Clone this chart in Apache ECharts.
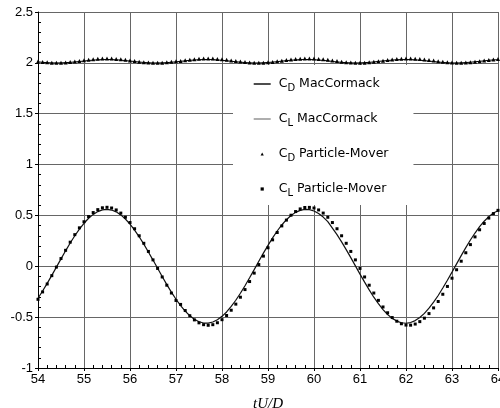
<!DOCTYPE html>
<html>
<head>
<meta charset="utf-8">
<script src="https://cdn.jsdelivr.net/npm/echarts@6/dist/echarts.min.js"></script>
<style>html,body{margin:0;padding:0;background:#fff;}#c{width:500px;height:408px;}</style>
</head>
<body>
<div id="c"></div>
<script>
// time tU/D
const t = [54.0,54.1,54.2,54.3,54.4,54.5,54.6,54.7,54.8,54.9,
55.0,55.1,55.2,55.3,55.4,55.5,55.6,55.7,55.8,55.9,
56.0,56.1,56.2,56.3,56.4,56.5,56.6,56.7,56.8,56.9,
57.0,57.1,57.2,57.3,57.4,57.5,57.6,57.7,57.8,57.9,
58.0,58.1,58.2,58.3,58.4,58.5,58.6,58.7,58.8,58.9,
59.0,59.1,59.2,59.3,59.4,59.5,59.6,59.7,59.8,59.9,
60.0,60.1,60.2,60.3,60.4,60.5,60.6,60.7,60.8,60.9,
61.0,61.1,61.2,61.3,61.4,61.5,61.6,61.7,61.8,61.9,
62.0,62.1,62.2,62.3,62.4,62.5,62.6,62.7,62.8,62.9,
63.0,63.1,63.2,63.3,63.4,63.5,63.6,63.7,63.8,63.9,64.0];

const cdMac = [2.010,2.005,2.002,2.000,1.999,2.000,2.002,2.005,2.009,2.013,
2.018,2.023,2.027,2.030,2.032,2.033,2.032,2.030,2.027,2.022,
2.018,2.013,2.008,2.004,2.001,1.999,1.999,2.000,2.002,2.006,
2.010,2.015,2.020,2.025,2.028,2.031,2.033,2.033,2.032,2.029,
2.025,2.021,2.016,2.011,2.007,2.003,2.000,1.999,1.999,2.001,
2.004,2.007,2.012,2.017,2.022,2.026,2.029,2.032,2.033,2.033,
2.031,2.028,2.024,2.020,2.014,2.009,2.005,2.002,2.000,1.999,
2.000,2.002,2.005,2.009,2.014,2.019,2.023,2.027,2.031,2.032,
2.033,2.032,2.030,2.026,2.022,2.017,2.013,2.008,2.004,2.001,
1.999,1.999,2.000,2.003,2.006,2.011,2.015,2.020,2.025,2.029,2.031];

const clMac = [-0.314,-0.243,-0.168,-0.089,-0.008,0.073,0.152,0.229,0.300,0.365,
0.423,0.472,0.510,0.538,0.555,0.560,0.553,0.535,0.505,0.465,
0.415,0.356,0.290,0.218,0.141,0.061,-0.020,-0.101,-0.180,-0.254,
-0.324,-0.386,-0.441,-0.486,-0.521,-0.545,-0.558,-0.559,-0.548,-0.526,
-0.492,-0.449,-0.395,-0.334,-0.265,-0.191,-0.113,-0.033,0.049,0.129,
0.206,0.279,0.347,0.406,0.458,0.499,0.530,0.550,0.560,0.557,
0.544,0.519,0.484,0.439,0.375,0.311,0.240,0.164,0.085,0.004,
-0.077,-0.156,-0.232,-0.304,-0.368,-0.426,-0.474,-0.512,-0.539,-0.555,
-0.560,-0.553,-0.534,-0.503,-0.463,-0.412,-0.353,-0.287,-0.214,-0.137,
-0.057,0.024,0.105,0.183,0.258,0.327,0.389,0.443,0.488,0.523,0.546];

const cdPM = [2.014,2.009,2.005,2.002,2.001,2.002,2.004,2.008,2.013,2.019,
2.025,2.031,2.036,2.040,2.042,2.043,2.042,2.039,2.035,2.030,
2.024,2.018,2.012,2.007,2.004,2.002,2.001,2.002,2.005,2.010,
2.015,2.019,2.025,2.030,2.036,2.040,2.042,2.043,2.042,2.039,
2.035,2.030,2.024,2.018,2.013,2.008,2.004,2.002,2.001,2.002,
2.005,2.009,2.015,2.021,2.027,2.032,2.037,2.041,2.043,2.043,
2.042,2.039,2.035,2.030,2.024,2.018,2.012,2.007,2.004,2.002,
2.001,2.002,2.005,2.010,2.015,2.021,2.027,2.033,2.037,2.041,
2.043,2.043,2.041,2.038,2.033,2.028,2.022,2.016,2.010,2.006,
2.003,2.001,2.001,2.003,2.007,2.011,2.017,2.023,2.029,2.034,2.039];

const clPM = [-0.325,-0.252,-0.174,-0.092,-0.008,0.076,0.157,0.237,0.311,0.378,
0.438,0.489,0.528,0.557,0.575,0.580,0.573,0.554,0.523,0.482,
0.430,0.369,0.300,0.226,0.146,0.063,-0.021,-0.105,-0.186,-0.263,
-0.336,-0.375,-0.435,-0.486,-0.527,-0.556,-0.574,-0.580,-0.574,-0.555,
-0.525,-0.484,-0.432,-0.372,-0.304,-0.229,-0.150,-0.067,0.017,0.100,
0.182,0.260,0.332,0.397,0.454,0.502,0.538,0.564,0.578,0.579,
0.573,0.554,0.523,0.482,0.430,0.369,0.300,0.226,0.146,0.063,
-0.021,-0.105,-0.186,-0.263,-0.335,-0.400,-0.457,-0.504,-0.540,-0.565,
-0.578,-0.579,-0.568,-0.544,-0.510,-0.465,-0.409,-0.346,-0.275,-0.198,
-0.117,-0.034,0.050,0.133,0.213,0.289,0.359,0.421,0.474,0.518,0.550];

const names = ['C_D MacCormack','C_L MacCormack','C_D Particle-Mover','C_L Particle-Mover'];

const pairs = arr => t.map((x, i) => [x, arr[i]]);
const tickFont = {fontFamily: 'Liberation Sans', fontSize: 13, color: '#000'};
const gridColor = '#666666';

const chart = echarts.init(document.getElementById('c'), null, {renderer: 'canvas'});
chart.setOption({
  animation: false,
  backgroundColor: '#fff',
  grid: {left: 38, right: 2, top: 12, bottom: 40, containLabel: false, outerBoundsMode: 'none'},
  xAxis: [{
    type: 'value', min: 54, max: 64, interval: 1, position: 'bottom',
    name: 'tU/D', nameLocation: 'middle', nameGap: 29,
    nameTextStyle: {fontFamily: 'Liberation Serif', fontStyle: 'italic', fontSize: 15, color: '#000'},
    axisLine: {onZero: false, lineStyle: {color: '#000', width: 1}},
    axisTick: {show: true, length: 3, lineStyle: {color: '#000'}},
    axisLabel: Object.assign({margin: 5}, tickFont),
    splitLine: {show: true, lineStyle: {color: gridColor, width: 1}}
  }, {
    type: 'value', min: 54, max: 64, interval: 1, position: 'bottom',
    axisLine: {show: false, onZero: false}, axisLabel: {show: false}, splitLine: {show: false},
    axisTick: {show: false, inside: true},
    minorTick: {show: true, splitNumber: 5, length: 3, lineStyle: {color: '#000'}}
  }],
  yAxis: [{
    type: 'value', min: -1, max: 2.5, interval: 0.5, position: 'left',
    axisLine: {show: true, onZero: false, lineStyle: {color: '#000', width: 1}},
    axisTick: {show: true, length: 3, lineStyle: {color: '#000'}},
    axisLabel: Object.assign({margin: 5}, tickFont),
    splitLine: {show: true, lineStyle: {color: gridColor, width: 1}}
  }, {
    type: 'value', min: -1, max: 2.5, interval: 0.5, position: 'left',
    axisLine: {show: false, onZero: false}, axisLabel: {show: false}, splitLine: {show: false},
    axisTick: {show: false, inside: true},
    minorTick: {show: true, splitNumber: 5, length: 3, lineStyle: {color: '#000'}}
  }],
  legend: {
    orient: 'vertical', left: 233, top: 65,
    padding: [10, 25, 7, 20], itemGap: 17, itemWidth: 17, itemHeight: 4,
    backgroundColor: '#fff',
    formatter: n => {
      const p = n.split('_');
      const sub = p[1].charAt(0);
      return '{f|' + p[0] + '}{s|' + sub + '}{m| ' + p[1].slice(2) + '}';
    },
    textStyle: {
      color: '#000',
      rich: {
        f: {fontFamily: 'DejaVu Sans', fontSize: 12.5, lineHeight: 18, color: '#000', verticalAlign: 'middle', padding: [0, 0, 0, 3]},
        m: {fontFamily: 'DejaVu Sans', fontSize: 12.5, lineHeight: 18, color: '#000', verticalAlign: 'middle'},
        s: {fontFamily: 'DejaVu Sans', fontSize: 10, lineHeight: 10, color: '#000', verticalAlign: 'middle', padding: [8, 0, 0, 0]}
      }
    },
    data: [
      {name: names[0], itemStyle: {opacity: 0}, lineStyle: {color: '#000', width: 1.4}},
      {name: names[1], itemStyle: {opacity: 0}, lineStyle: {color: '#777', width: 1.2}},
      {name: names[2]},
      {name: names[3]}
    ]
  },
  series: [
    {name: names[0], type: 'line', data: pairs(cdMac), symbol: 'none',
     lineStyle: {color: '#000', width: 1}, itemStyle: {color: '#000'}, z: 3},
    {name: names[1], type: 'line', data: pairs(clMac), symbol: 'none',
     lineStyle: {color: '#111', width: 1.2}, itemStyle: {color: '#111'}, z: 3},
    {name: names[2], type: 'line', data: pairs(cdPM), symbol: 'triangle', symbolSize: 4,
     showSymbol: true, showAllSymbol: true,
     lineStyle: {opacity: 0, width: 0}, itemStyle: {color: '#000'}, z: 4},
    {name: names[3], type: 'line', data: pairs(clPM), symbol: 'rect', symbolSize: 3,
     showSymbol: true, showAllSymbol: true,
     lineStyle: {opacity: 0, width: 0}, itemStyle: {color: '#000'}, z: 4}
  ]
});
</script>
</body>
</html>
